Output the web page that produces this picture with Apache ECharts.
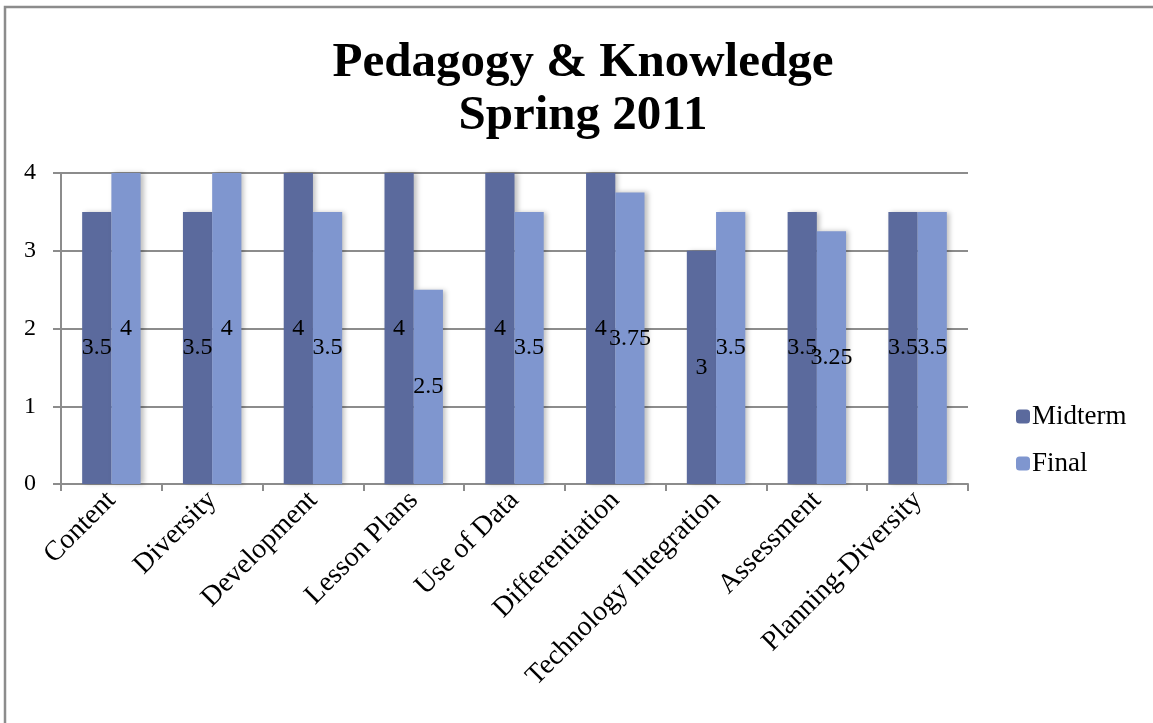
<!DOCTYPE html>
<html>
<head>
<meta charset="utf-8">
<script src="https://cdn.jsdelivr.net/npm/echarts@6/dist/echarts.min.js"></script>
<style>
html,body{margin:0;padding:0;background:#fff;}
#chart{width:1153px;height:723px;}
</style>
</head>
<body>
<div id="chart"></div>
<script>
var categories = ['Content','Diversity','Development','Lesson Plans','Use of Data','Differentiation','Technology Integration','Assessment','Planning-Diversity'];
var midterm = [3.5, 3.5, 4, 4, 4, 4, 3, 3.5, 3.5];
var finalScores = [4, 4, 3.5, 2.5, 3.5, 3.75, 3.5, 3.25, 3.5];
var yTicks = [0, 1, 2, 3, 4];

var FONT = '"Liberation Serif", "Times New Roman", serif';
var chart = echarts.init(document.getElementById('chart'));
var labelStyle = {show: true, position: 'inside', color: '#000', fontFamily: FONT, fontSize: 24};
var shadow = {shadowBlur: 5, shadowOffsetX: 3, shadowOffsetY: 0, shadowColor: 'rgba(0,0,0,0.25)'};
chart.setOption({
  animation: false,
  backgroundColor: '#fff',
  graphic: [{
    type: 'rect', z: 100,
    shape: {x: 5, y: 7, width: 1300, height: 900},
    style: {fill: 'none', stroke: '#8c8c8c', lineWidth: 2.5}
  }],
  title: {
    text: 'Pedagogy & Knowledge\nSpring 2011',
    left: 578, top: 32, textAlign: 'center',
    textStyle: {fontFamily: FONT, fontWeight: 'bold', fontSize: 49, lineHeight: 53, color: '#000'}
  },
  legend: {
    orient: 'vertical', left: 1011, top: 398,
    itemWidth: 14, itemHeight: 14, itemGap: 20,
    data: ['Midterm', 'Final'],
    textStyle: {fontFamily: FONT, fontSize: 27, color: '#000', lineHeight: 26, padding: [0,0,0,-3]}
  },
  grid: {left: 61, right: 185, top: 173, bottom: 239},
  xAxis: {
    type: 'category', data: categories,
    axisLine: {lineStyle: {color: '#8c8c8c', width: 2}},
    axisTick: {show: true, length: 7, alignWithLabel: false, lineStyle: {color: '#8c8c8c', width: 2}},
    axisLabel: {rotate: 45, interval: 0, margin: 12, fontFamily: FONT, fontSize: 28, color: '#000'}
  },
  yAxis: {
    type: 'value', min: yTicks[0], max: yTicks[yTicks.length-1], interval: 1,
    axisLine: {show: true, lineStyle: {color: '#8c8c8c', width: 2}},
    axisTick: {show: true, length: 8, lineStyle: {color: '#8c8c8c', width: 2}},
    splitLine: {lineStyle: {color: '#8c8c8c', width: 2}},
    axisLabel: {margin: 25, fontFamily: FONT, fontSize: 24, color: '#000'}
  },
  series: [
    {name: 'Midterm', type: 'bar', data: midterm, barGap: '0%', barCategoryGap: '42%',
     itemStyle: Object.assign({color: '#5b6a9d'}, shadow), label: labelStyle},
    {name: 'Final', type: 'bar', data: finalScores, barGap: '0%', barCategoryGap: '42%',
     itemStyle: Object.assign({color: '#7f96cf'}, shadow), label: labelStyle}
  ]
});
</script>
</body>
</html>
